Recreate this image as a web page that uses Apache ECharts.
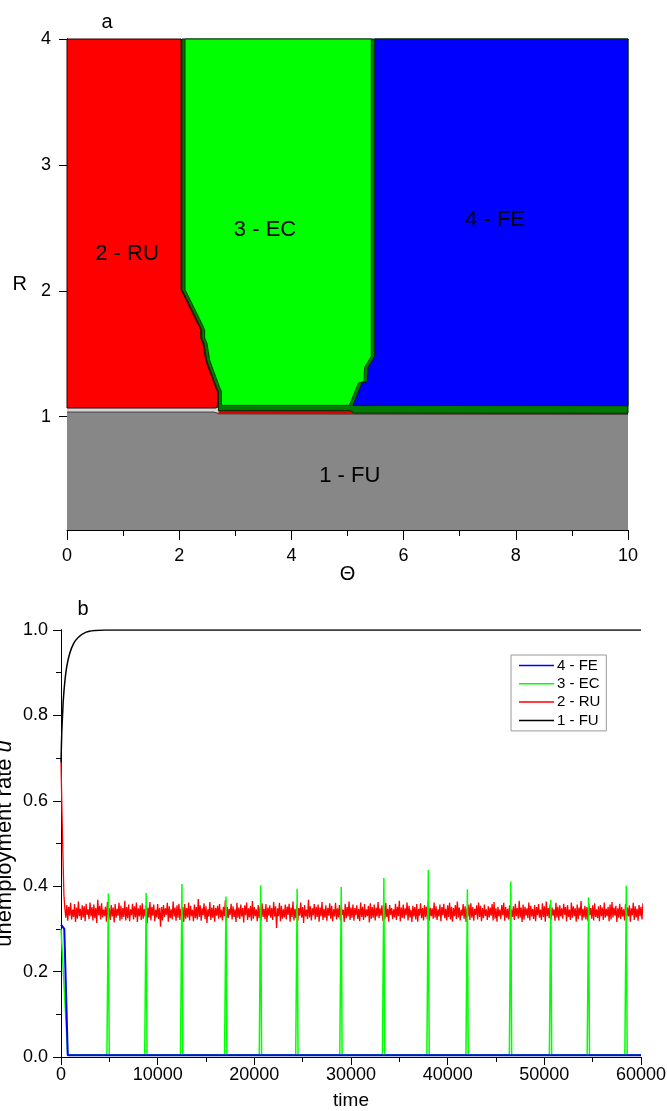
<!DOCTYPE html>
<html><head><meta charset="utf-8">
<script src="https://cdn.jsdelivr.net/npm/echarts@6/dist/echarts.min.js"></script>
<style>html,body{margin:0;padding:0;background:#fff}#c{width:667px;height:1111px}</style>
</head><body><div id="c"></div>
<script>
// ---------- Panel a: regime map (Theta, R) ----------
const redGreenTheta = [2.05, 2.05, 2.37, 2.40, 2.40, 2.44, 2.49, 2.52, 2.67, 2.70, 2.70];
const redGreenR     = [4.00, 2.01, 1.72, 1.69, 1.625, 1.585, 1.45, 1.41, 1.23, 1.20, 1.09];
const greenBlueTheta = [5.46, 5.46, 5.34, 5.33, 5.23, 5.07];
const greenBlueR     = [4.00, 1.48, 1.39, 1.28, 1.267, 1.09];
const grayTopTheta = [0, 2.62, 2.71, 10];
const grayTopR     = [1.037, 1.037, 1.022, 1.018];
const darkBandTheta = [2.70, 5.05, 5.12, 10];
const darkBandR     = [1.048, 1.048, 1.028, 1.028];
const redBottomR = 1.069;
const blueBottomR = 1.087;
const rMin = 0.1, rMax = 4, thetaMin = 0, thetaMax = 10;
const rTicks = [1, 2, 3, 4];
const regionLabels = ['2 - RU', '3 - EC', '4 - FE', '1 - FU'];
const regionLabelTheta = [1.07, 3.53, 7.63, 5.04];
const regionLabelR = [2.29, 2.48, 2.56, 0.53];

// ---------- Panel b: time series ----------
const blackT = [0, 80, 160, 240, 400, 600, 900, 1300, 1800, 2600, 3500, 4500, 60000];
const blackU = [0.69, 0.76, 0.80, 0.836, 0.88, 0.915, 0.945, 0.968, 0.983, 0.995, 0.999, 1.0, 1.0];
const blueT = [0, 340, 700, 60000];
const blueU = [0.31, 0.30, 0.004, 0.004];
const greenStartT = [0, 700];
const greenStartU = [0.30, 0.005];
const greenBaseU = 0.005;
const spikeT = [4900, 8810, 12510, 17070, 20660, 24430, 28990, 33400, 38000, 42040, 46530, 50670, 54580, 58480];
const spikeU = [0.383, 0.384, 0.405, 0.376, 0.402, 0.394, 0.398, 0.419, 0.438, 0.393, 0.411, 0.368, 0.374, 0.401];
const redStartT = [0, 150, 300];
const redStartU = [0.69, 0.52, 0.38];
const redNoiseT0 = 400, redNoiseStep = 100;
const redNoiseU = [
.348,.326,.356,.319,.352,.331,.361,.322,.345,.328,.358,.316,.350,.324,.364,.330,.347,.321,.355,.327,
.353,.318,.359,.333,.346,.323,.362,.329,.351,.320,.357,.325,.349,.314,.368,.332,.354,.322,.360,.327,
.345,.330,.352,.317,.363,.324,.348,.321,.356,.329,.350,.315,.358,.326,.347,.331,.361,.319,.354,.323,
.349,.328,.366,.320,.351,.325,.357,.318,.346,.332,.359,.322,.353,.327,.362,.316,.348,.330,.355,.321,
.360,.324,.347,.329,.354,.313,.350,.326,.363,.320,.352,.331,.357,.318,.345,.327,.358,.323,.349,.305,
.351,.320,.356,.328,.348,.333,.361,.317,.353,.325,.346,.322,.364,.329,.350,.319,.355,.326,.359,.321,
.347,.331,.352,.316,.358,.324,.349,.327,.362,.320,.354,.330,.345,.318,.357,.325,.351,.322,.370,.328,
.355,.319,.348,.332,.360,.323,.353,.314,.346,.329,.363,.321,.350,.326,.356,.317,.349,.331,.354,.324,
.358,.327,.345,.320,.352,.330,.367,.318,.351,.325,.347,.333,.359,.322,.353,.328,.346,.316,.361,.326,
.350,.323,.357,.329,.349,.315,.355,.332,.362,.321,.348,.327,.354,.319,.365,.324,.351,.330,.346,.318,
.356,.325,.352,.320,.360,.328,.347,.323,.358,.316,.350,.331,.355,.326,.349,.321,.363,.329,.353,.302,
.348,.330,.361,.318,.354,.324,.346,.327,.357,.322,.352,.333,.359,.317,.350,.328,.364,.320,.347,.325,
.355,.319,.349,.331,.362,.326,.351,.314,.356,.329,.345,.323,.368,.327,.353,.320,.348,.332,.358,.322,
.352,.328,.357,.317,.350,.330,.363,.321,.347,.326,.355,.319,.349,.331,.360,.324,.354,.318,.346,.329,
.361,.322,.348,.327,.356,.320,.353,.333,.345,.316,.359,.325,.351,.329,.364,.321,.350,.326,.357,.319,
.349,.332,.355,.323,.347,.318,.362,.328,.352,.321,.358,.327,.346,.330,.354,.315,.360,.324,.351,.326,
.357,.320,.350,.329,.363,.325,.348,.331,.355,.319,.353,.322,.361,.328,.347,.317,.356,.333,.349,.323,
.346,.327,.359,.321,.352,.330,.366,.318,.350,.326,.357,.324,.348,.332,.362,.320,.354,.327,.345,.316,
.354,.329,.351,.322,.358,.317,.347,.331,.360,.325,.349,.320,.356,.328,.352,.323,.365,.319,.350,.330,
.348,.324,.362,.326,.353,.321,.346,.329,.357,.318,.351,.332,.359,.325,.347,.320,.355,.328,.361,.322,
.352,.317,.349,.330,.356,.323,.364,.327,.350,.320,.345,.331,.358,.324,.353,.316,.348,.329,.357,.321,
.360,.326,.351,.319,.347,.333,.355,.322,.362,.328,.354,.318,.349,.325,.357,.330,.346,.321,.353,.327,
.350,.331,.358,.320,.363,.324,.348,.317,.352,.329,.345,.323,.356,.332,.361,.319,.351,.326,.347,.322,
.355,.318,.346,.328,.353,.321,.359,.330,.349,.324,.366,.327,.350,.316,.357,.322,.352,.331,.348,.325,
.362,.320,.354,.329,.347,.323,.356,.318,.351,.332,.358,.326,.345,.321,.360,.328,.353,.317,.364,.330,
.349,.325,.357,.322,.350,.331,.346,.319,.361,.327,.352,.320,.355,.329,.348,.324,.359,.333,.351,.318,
.356,.328,.345,.321,.362,.326,.353,.330,.348,.317,.357,.323,.350,.331,.365,.320,.347,.327,.354,.322,
.351,.319,.358,.332,.349,.324,.355,.320,.360,.328,.346,.325,.353,.318,.356,.330,.350,.321,.362,.326,
.347,.330,.352,.318,.357,.322,.363,.327,.350,.331,.354,.316,.348,.326,.359,.323,.351,.329,.346,.320,
.358,.324,.350,.329,.355,.317,.348,.332,.361,.321,.353,.327,.347,.319,.356,.330,.352,.322,.360,.325
];
const seriesNames = ['4 - FE', '3 - EC', '2 - RU', '1 - FU'];

// ---------- build ----------
const FONT = "'Liberation Sans', Arial, sans-serif";
const zip = (a, b, dx) => a.map((v, i) => [v, b[i], dx || 0]);
const pairs = (a, b) => a.map((v, i) => [v, b[i]]);
const rev = arr => arr.slice().reverse();
const rg = zip(redGreenTheta, redGreenR);
const gt = zip(grayTopTheta, grayTopR);
const db = zip(darkBandTheta, darkBandR);
const rgLastT = redGreenTheta[redGreenTheta.length - 1];

const layers = [
  { fill: '#878787', pts: [[thetaMin, rMin], [thetaMax, rMin], [thetaMax, rMax], [thetaMin, rMax]] },
  { fill: '#e00000', pts: [[thetaMin, rMax], [thetaMax, rMax]].concat(rev(gt)) },
  { fill: '#d6d6d6', pts: [gt[0], gt[1], [rgLastT, 1.03], [rgLastT, redBottomR], [thetaMin, redBottomR]] },
  { fill: '#007a00', stroke: '#002a00', lw: 1, pts: rg.concat(db, [[thetaMax, rMax]]) },
  { fill: '#00ff00', stroke: '#003a00', lw: 1, pts: zip(redGreenTheta, redGreenR, 3).concat(rev(zip(greenBlueTheta, greenBlueR, -2))) },
  { fill: '#0000ff', stroke: '#002000', lw: 1, pts: zip(greenBlueTheta, greenBlueR, 1.5).concat([[thetaMax, blueBottomR], [thetaMax, rMax]]) },
  { fill: '#ff0000', stroke: '#2a0000', lw: 1, pts: [[thetaMin, rMax]].concat(zip(redGreenTheta, redGreenR, -1), [[rgLastT - 0.04, redBottomR], [thetaMin, redBottomR]]) },
  { line: true, stroke: '#444', lw: 1, pts: gt }
];

const redData = pairs(redStartT, redStartU).concat(redNoiseU.map((u, i) => [redNoiseT0 + i * redNoiseStep, u]));
const greenData = pairs(greenStartT, greenStartU);
spikeT.forEach((t, i) => {
  greenData.push([t - 150, greenBaseU], [t, spikeU[i]], [t + 90, greenBaseU]);
});
greenData.push([60000, greenBaseU]);
const blueData = pairs(blueT, blueU);
const blackData = pairs(blackT, blackU);

const axisLineBlack = { show: true, lineStyle: { color: '#000', width: 1 } };
const lab = { color: '#000', fontSize: 18, fontFamily: FONT };
const legendIcon = 'rect';

const chart = echarts.init(document.getElementById('c'), null, { renderer: 'canvas' });
chart.setOption({
  animation: false,
  backgroundColor: '#fff',
  textStyle: { fontFamily: FONT },
  grid: [
    { left: 67, top: 39, width: 561, height: 491, outerBoundsMode: 'none', containLabel: false },
    { left: 61, top: 630, width: 580, height: 427, outerBoundsMode: 'none', containLabel: false }
  ],
  xAxis: [
    { gridIndex: 0, type: 'value', min: thetaMin, max: thetaMax, interval: 2, position: 'bottom',
      axisLine: axisLineBlack, splitLine: { show: false },
      axisTick: { show: true, length: 10, lineStyle: { color: '#000' } },
      minorTick: { show: true, splitNumber: 2, length: 6, lineStyle: { color: '#000' } },
      axisLabel: Object.assign({ margin: 17, formatter: v => String(v) }, lab),
      name: 'Θ', nameLocation: 'middle', nameGap: 34, nameMoveOverlap: false, nameTextStyle: { color: '#000', fontSize: 20, fontFamily: FONT } },
    { gridIndex: 0, type: 'value', min: thetaMin, max: thetaMax, position: 'top',
      axisLine: axisLineBlack, axisTick: { show: false }, axisLabel: { show: false }, splitLine: { show: false } },
    { gridIndex: 1, type: 'value', min: 0, max: 60000, interval: 10000, position: 'bottom',
      axisLine: axisLineBlack, splitLine: { show: false },
      axisTick: { show: true, length: 8, lineStyle: { color: '#000' } },
      minorTick: { show: true, splitNumber: 2, length: 5, lineStyle: { color: '#000' } },
      axisLabel: Object.assign({ margin: 9, formatter: v => String(v) }, lab),
      name: 'time', nameLocation: 'middle', nameGap: 34, nameMoveOverlap: false, nameTextStyle: { color: '#000', fontSize: 19, fontFamily: FONT } },
    { gridIndex: 1, type: 'value', min: 0, max: 60000, interval: 10000, position: 'top',
      axisLine: axisLineBlack, splitLine: { show: false },
      axisTick: { show: true, inside: true, length: 7, lineStyle: { color: '#000' } },
      minorTick: { show: true, splitNumber: 2, length: 4, lineStyle: { color: '#000' } },
      axisLabel: { show: false } }
  ],
  yAxis: [
    { gridIndex: 0, type: 'value', min: rMin, max: rMax, position: 'left',
      axisLine: axisLineBlack, splitLine: { show: false },
      axisTick: { show: true, length: 8, customValues: rTicks, lineStyle: { color: '#000' } },
      axisLabel: Object.assign({ margin: 16, customValues: rTicks }, lab),
      name: 'R', nameLocation: 'middle', nameRotate: 0, nameGap: 40, nameMoveOverlap: false, nameTextStyle: { color: '#000', fontSize: 20, fontFamily: FONT } },
    { gridIndex: 0, type: 'value', min: rMin, max: rMax, position: 'right',
      axisLine: axisLineBlack, axisTick: { show: false }, axisLabel: { show: false }, splitLine: { show: false } },
    { gridIndex: 1, type: 'value', min: 0, max: 1, interval: 0.2, position: 'left',
      axisLine: axisLineBlack, splitLine: { show: false },
      axisTick: { show: true, length: 8, lineStyle: { color: '#000' } },
      minorTick: { show: true, splitNumber: 2, length: 5, lineStyle: { color: '#000' } },
      axisLabel: Object.assign({ margin: 13, formatter: v => v.toFixed(1) }, lab),
      name: '{n|unemployment rate }{i|u}', nameLocation: 'middle', nameGap: 45, nameMoveOverlap: false,
      nameTextStyle: { color: '#000', fontSize: 22, fontFamily: FONT,
        rich: { n: { fontSize: 22, fontFamily: FONT, color: '#000' }, i: { fontSize: 22, fontStyle: 'italic', fontFamily: FONT, color: '#000' } } } },
    { gridIndex: 1, type: 'value', min: 0, max: 1, interval: 0.2, position: 'right',
      axisLine: axisLineBlack, splitLine: { show: false },
      axisTick: { show: true, inside: true, length: 8, lineStyle: { color: '#000' } },
      minorTick: { show: true, splitNumber: 2, length: 5, lineStyle: { color: '#000' } },
      axisLabel: { show: false } }
  ],
  legend: {
    data: seriesNames.map(n => ({ name: n, icon: legendIcon })), orient: 'vertical', left: 511, top: 655,
    itemWidth: 35, itemHeight: 1.5, itemGap: 3.3, padding: [3, 6, 3, 8],
    borderColor: '#999', borderWidth: 1, backgroundColor: '#fff',
    selectedMode: false, textStyle: { fontSize: 15, lineHeight: 15, color: '#000', fontFamily: FONT, padding: [0, 0, 0, -2] }
  },
  graphic: [
    { type: 'text', x: 107, y: 22, style: { text: 'a', fontSize: 20, fontFamily: FONT, fill: '#000', textAlign: 'center', textVerticalAlign: 'middle' } },
    { type: 'text', x: 83, y: 609, style: { text: 'b', fontSize: 20, fontFamily: FONT, fill: '#000', textAlign: 'center', textVerticalAlign: 'middle' } }
  ],
  series: [
    { type: 'custom', xAxisIndex: 0, yAxisIndex: 0, silent: true, z: 1,
      data: layers.map((_, i) => [i]),
      renderItem: (params, api) => {
        const L = layers[params.dataIndex];
        const points = L.pts.map(p => { const c = api.coord([p[0], p[1]]); return [c[0] + (p[2] || 0), c[1]]; });
        if (L.line) return { type: 'polyline', shape: { points }, style: { fill: null, stroke: L.stroke, lineWidth: L.lw }, z2: params.dataIndex };
        return { type: 'polygon', shape: { points }, style: { fill: L.fill, stroke: L.stroke || null, lineWidth: L.lw || 0 }, z2: params.dataIndex };
      } },
    { type: 'custom', xAxisIndex: 0, yAxisIndex: 0, silent: true, z: 3,
      data: regionLabelTheta.map((t, i) => [t, regionLabelR[i]]),
      renderItem: (params, api) => {
        const c = api.coord([api.value(0), api.value(1)]);
        return { type: 'text', x: c[0], y: c[1], style: { text: regionLabels[params.dataIndex], fontSize: 22, fontFamily: FONT, fill: '#000', textAlign: 'center', textVerticalAlign: 'middle' } };
      } },
    { name: '2 - RU', type: 'line', xAxisIndex: 2, yAxisIndex: 2, data: redData, symbol: 'none', lineStyle: { color: '#ff0000', width: 1.3 }, itemStyle: { color: '#ff0000' }, z: 2 },
    { name: '3 - EC', type: 'line', xAxisIndex: 2, yAxisIndex: 2, data: greenData, symbol: 'none', lineStyle: { color: '#00ff00', width: 1.5 }, itemStyle: { color: '#00ff00' }, z: 3 },
    { name: '4 - FE', type: 'line', xAxisIndex: 2, yAxisIndex: 2, data: blueData, symbol: 'none', lineStyle: { color: '#0000ff', width: 2 }, itemStyle: { color: '#0000ff' }, z: 4 },
    { name: '1 - FU', type: 'line', xAxisIndex: 2, yAxisIndex: 2, data: blackData, symbol: 'none', smooth: 0.3, lineStyle: { color: '#000', width: 1.5 }, itemStyle: { color: '#000' }, z: 5 }
  ]
});
</script></body></html>
